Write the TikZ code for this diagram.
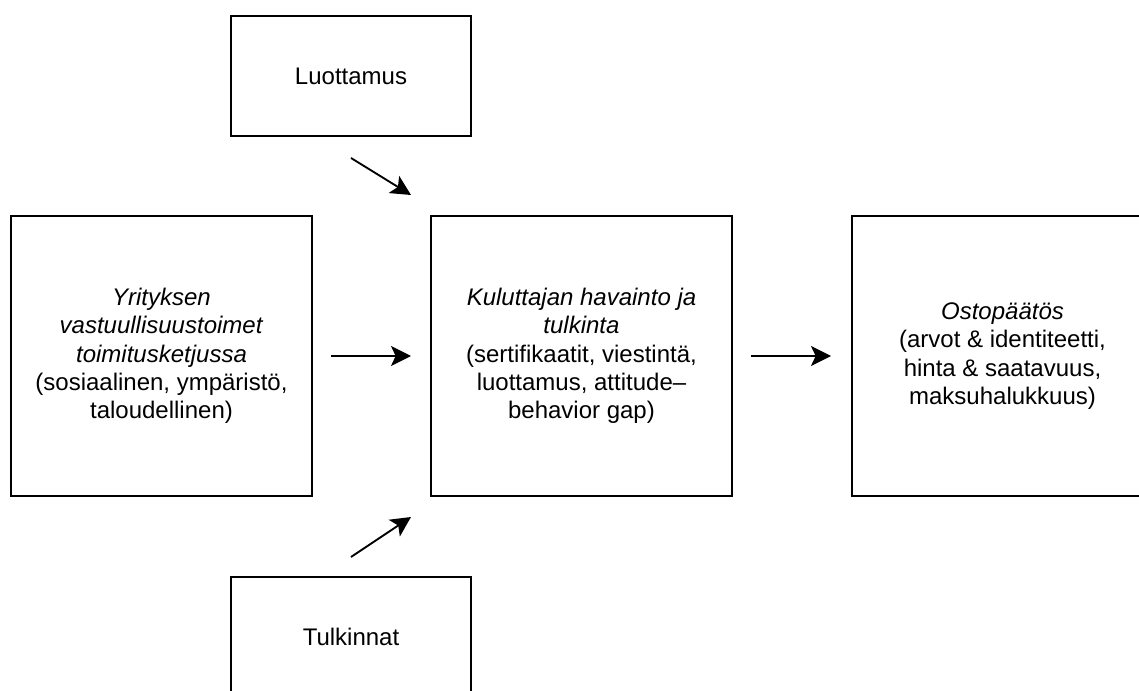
\documentclass[tikz,border=0pt]{standalone}
\usepackage{fontspec}
\setmainfont{Liberation Sans}
\usetikzlibrary{arrows.meta}
\begin{document}
\begin{tikzpicture}[x=0.75pt,y=-0.75pt,
  box/.style={draw=black, line width=1.4pt, rectangle, align=center, inner sep=0pt, outer sep=0pt,
    font=\fontsize{18}{21.2}\selectfont},
  smallbox/.style={box, minimum width=180pt, minimum height=90pt},
  bigbox/.style={box, minimum width=225.75pt, minimum height=210pt},
  conn/.style={line width=1.4pt, -{Stealth[length=15pt, width=15pt, inset=3.5pt]}}]
\useasboundingbox (0,0) rectangle (1139,691);
\node[smallbox] (luot) at (351,76) {Luottamus};
\node[bigbox] (left) at (161.5,356) {\textit{Yrityksen}\\\textit{vastuullisuustoimet}\\\textit{toimitusketjussa}\\(sosiaalinen, ympäristö,\\taloudellinen)};
\node[bigbox] (mid) at (581.5,356) {\textit{Kuluttajan havainto ja}\\\textit{tulkinta}\\(sertifikaatit, viestintä,\\luottamus, attitude–\\behavior gap)};
\node[bigbox] (right) at (1002.5,356) {\textit{Ostopäätös}\\(arvot \& identiteetti,\\hinta \& saatavuus,\\maksuhalukkuus)};
\node[smallbox] (tulk) at (351,637) {Tulkinnat};
\coordinate (a1s) at (351,158);
\coordinate (a1e) at (411,195);
\coordinate (a4s) at (351,557);
\coordinate (a4e) at (411,517);
\draw[conn] (a1s) -- (a1e);
\draw[conn] (a4s) -- (a4e);
\draw[conn, shorten <=14.25pt, shorten >=15pt] (left.east) -- (mid.west);
\draw[conn, shorten <=14.25pt, shorten >=15.75pt] (mid.east) -- (right.west);
\end{tikzpicture}
\end{document}
